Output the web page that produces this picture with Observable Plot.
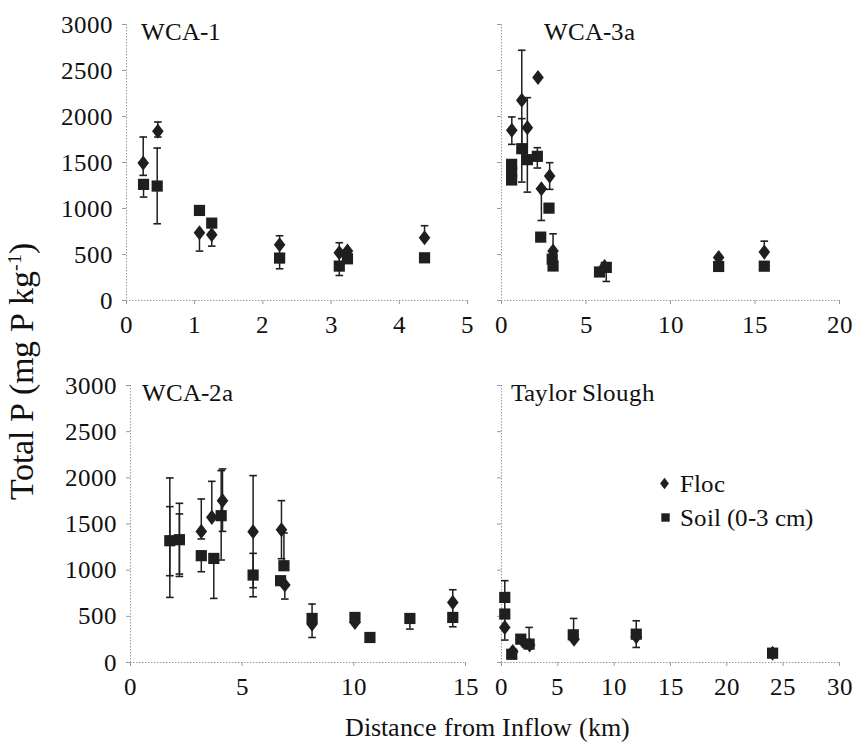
<!DOCTYPE html>
<html><head><meta charset="utf-8">
<script src="https://cdn.jsdelivr.net/npm/d3@7"></script>
<script src="https://cdn.jsdelivr.net/npm/@observablehq/plot@0.6"></script>
<style>
@font-face{font-family:'ChartSerif';src:local('Liberation Serif'),local('LiberationSerif'),local('LiberationSerif-Regular'),local('Times New Roman');}
html,body{margin:0;padding:0;background:#fff;}
#chart{position:relative;width:856px;height:751px;font-family:'ChartSerif','Liberation Serif',serif;overflow:hidden;}
#chart text{font-family:'ChartSerif','Liberation Serif',serif;}
#xlabel{position:absolute;left:0;width:974px;top:713px;text-align:center;font-family:'ChartSerif','Liberation Serif',serif;font-size:25.5px;color:#111;line-height:30px;white-space:nowrap;}
</style></head><body><div id="chart"><div id="xlabel">Distance from Inflow (km)</div><svg id="ov" width="856" height="751" style="position:absolute;left:0;top:0;pointer-events:none" fill="#111"><text transform="translate(33,371) rotate(-90)" text-anchor="middle" font-size="34">Total P (mg P kg<tspan dy="-12" font-size="20">-1</tspan><tspan dy="12">)</tspan></text></svg></div>
<script>
// ---------- data ----------
const Y_TICKS = [0, 500, 1000, 1500, 2000, 2500, 3000];
const SERIES = ["Floc", "Soil (0-3 cm)"];

// WCA-1
const WCA1_X_TICKS = [0, 1, 2, 3, 4, 5];
const WCA1_FLOC_X = [0.245, 0.46, 1.07, 1.25, 2.245, 3.12, 3.24, 4.37];
const WCA1_FLOC_Y = [1494, 1839, 736, 715, 606, 519, 537, 682];
const WCA1_SOIL_X = [0.25, 0.45, 1.07, 1.25, 2.245, 3.12, 3.24, 4.37];
const WCA1_SOIL_Y = [1262, 1244, 979, 841, 461, 374, 453, 464];
const WCA1_ERR_X  = [0.245, 0.25, 0.46, 0.45, 1.07, 1.25, 2.245, 3.12, 4.37];
const WCA1_ERR_LO = [1360, 1124, 1777, 834, 537, 591, 345, 272, 682];
const WCA1_ERR_HI = [1777, 1262, 1940, 1657, 736, 715, 704, 628, 813];

// WCA-3a
const WCA3_X_TICKS = [0, 5, 10, 15, 20];
const WCA3_FLOC_X = [0.61, 1.20, 1.53, 2.16, 2.36, 2.85, 3.05, 6.1, 12.85, 15.55];
const WCA3_FLOC_Y = [1850, 2176, 1879, 2423, 1215, 1352, 537, 370, 468, 526];
const WCA3_SOIL_X = [0.6, 0.6, 0.6, 1.2, 1.53, 2.12, 2.32, 2.81, 3.0, 3.05, 5.8, 6.2, 12.85, 15.55];
const WCA3_SOIL_Y = [1480, 1395, 1310, 1650, 1531, 1567, 689, 1004, 450, 375, 310, 360, 370, 373];
const WCA3_ERR_X  = [0.61, 1.20, 1.20, 1.53, 2.12, 2.36, 2.85, 3.05, 6.2, 15.55];
const WCA3_ERR_LO = [1697, 1630, 1287, 1178, 1440, 870, 1208, 537, 207, 526];
const WCA3_ERR_HI = [1995, 2720, 1977, 2205, 1661, 1215, 1498, 725, 360, 645];

// WCA-2a
const WCA2_X_TICKS = [0, 5, 10, 15];
const WCA2_FLOC_X = [3.17, 3.64, 4.12, 5.49, 6.76, 6.91, 8.13, 10.05, 14.43];
const WCA2_FLOC_Y = [1420, 1572, 1753, 1417, 1438, 839, 416, 434, 651];
const WCA2_SOIL_X = [1.76, 2.19, 3.17, 3.73, 4.06, 5.49, 6.72, 6.87, 8.13, 10.05, 10.72, 12.51, 14.43];
const WCA2_SOIL_Y = [1319, 1330, 1157, 1127, 1590, 947, 886, 1048, 477, 488, 271, 477, 488];
const WCA2_ERR_X  = [1.76, 1.76, 2.19, 2.19, 3.17, 3.17, 3.64, 3.73, 4.06, 4.12, 5.49, 5.49, 6.76, 6.87, 6.91, 8.13, 12.51, 14.43];
const WCA2_ERR_LO = [705, 940, 932, 958, 1338, 983, 1572, 694, 1110, 1420, 810, 712, 1124, 1048, 687, 271, 362, 387];
const WCA2_ERR_HI = [1999, 1688, 1724, 1609, 1771, 1157, 1962, 1127, 2078, 2096, 2024, 1182, 1753, 1403, 839, 633, 477, 788];

// Taylor Slough
const TS_X_TICKS = [0, 5, 10, 15, 20, 25, 30];
const TS_FLOC_X = [0.29, 1.0, 1.9, 2.5, 6.44, 11.96, 24.06];
const TS_FLOC_Y = [380, 120, 230, 190, 253, 280, 101];
const TS_SOIL_X = [0.29, 0.29, 0.91, 1.71, 2.45, 6.37, 11.96, 24.06];
const TS_SOIL_Y = [705, 525, 89, 253, 199, 300, 307, 101];
const TS_ERR_X  = [0.29, 2.45, 6.4, 11.96];
const TS_ERR_LO = [243, 199, 253, 163];
const TS_ERR_HI = [886, 380, 477, 452];

// ---------- symbols ----------
const diamondSym = {draw(ctx, size){ const r = Math.sqrt(size/Math.PI); const w = r, h = r*1.3;
  ctx.moveTo(0,-h); ctx.lineTo(w,0); ctx.lineTo(0,h); ctx.lineTo(-w,0); ctx.closePath(); }};
const squareSym = {draw(ctx, size){ const r = Math.sqrt(size/Math.PI); ctx.rect(-r,-r,2*r,2*r); }};
const capSym = {draw(ctx, size){ const r = Math.sqrt(size/Math.PI); ctx.moveTo(-r,0); ctx.lineTo(r,0); }};

const INK = "#1f1f1f";
const AXIS = "#9a9a9a";
const FONT = "'ChartSerif', 'Liberation Serif', serif";
const fmt = d => String(d);

function zip(xs, ys){ return xs.map((x,i)=>({x, y: ys[i]})); }

function panel(o){
  const floc = zip(o.flocX, o.flocY);
  const soil = zip(o.soilX, o.soilY);
  const err = o.errX.map((x,i)=>({x, lo: o.errLo[i], hi: o.errHi[i]}));
  const yAxis = o.yLabels
    ? Plot.axisY({ticks: Y_TICKS, tickSize: 4, tickPadding: 10, stroke: AXIS, fill: "#111", fontSize: 25, label: null, tickFormat: fmt})
    : (Plot.axisTickY ? Plot.axisTickY({ticks: Y_TICKS, tickSize: 4, stroke: AXIS})
                      : Plot.axisY({ticks: Y_TICKS, tickSize: 4, stroke: AXIS, tickFormat: () => "", label: null}));
  const marks = [
    Plot.ruleY([0], {stroke: AXIS, strokeDasharray: "1.5,1.5", strokeWidth: 1}),
    Plot.ruleX([o.xDomain[0]], {stroke: AXIS, strokeDasharray: "1.5,1.5", strokeWidth: 1}),
    Plot.axisX({ticks: o.xTicks, tickSize: 4, tickPadding: 11, stroke: AXIS, fill: "#111", fontSize: 25, label: null, tickFormat: fmt}),
    yAxis,
    Plot.ruleX(err, {x: "x", y1: "lo", y2: "hi", stroke: INK, strokeWidth: 1.5}),
    Plot.dot(err, {x: "x", y: "lo", symbol: capSym, r: 3.8, stroke: INK, fill: "none", strokeWidth: 1.6}),
    Plot.dot(err, {x: "x", y: "hi", symbol: capSym, r: 3.8, stroke: INK, fill: "none", strokeWidth: 1.6}),
    Plot.dot(soil, {x: "x", y: "y", symbol: squareSym, r: 5.6, fill: INK, stroke: "none"}),
    Plot.dot(floc, {x: "x", y: "y", symbol: diamondSym, r: 5.8, fill: INK, stroke: "none"}),
    Plot.text([o.title], {frameAnchor: "top-left", textAnchor: "start", lineAnchor: "top", dx: o.titleDx, dy: -2, fontSize: 25, fill: "#111"})
  ];
  if (o.legend) {
    marks.push(
      Plot.dot([0], {frameAnchor: "top-left", dx: 163, dy: 98, symbol: diamondSym, r: 4.4, fill: INK}),
      Plot.dot([0], {frameAnchor: "top-left", dx: 164, dy: 132, symbol: squareSym, r: 4.2, fill: INK}),
      Plot.text([SERIES[0]], {frameAnchor: "top-left", textAnchor: "start", lineAnchor: "middle", dx: 178, dy: 98, fontSize: 25, fill: "#111"}),
      Plot.text([SERIES[1]], {frameAnchor: "top-left", textAnchor: "start", lineAnchor: "middle", dx: 178, dy: 132, fontSize: 25, fill: "#111"})
    );
  }
  const svg = Plot.plot({
    width: o.width, height: o.height,
    marginLeft: o.ml, marginRight: o.mr, marginTop: o.mt, marginBottom: o.mb,
    x: {domain: o.xDomain, axis: null},
    y: {domain: [0, 3000], axis: null},
    style: {fontFamily: FONT, fontSize: "25px", background: "transparent", overflow: "visible", color: "#111"},
    marks
  });
  svg.style.position = "absolute";
  svg.style.left = o.left + "px";
  svg.style.top = o.top + "px";
  return svg;
}

const chart = document.getElementById("chart");
const ovEl = document.getElementById("ov");
function add(svg){ chart.insertBefore(svg, ovEl); }
add(panel({title: "WCA-1", xDomain: [0,5], xTicks: WCA1_X_TICKS,
  flocX: WCA1_FLOC_X, flocY: WCA1_FLOC_Y, soilX: WCA1_SOIL_X, soilY: WCA1_SOIL_Y,
  errX: WCA1_ERR_X, errLo: WCA1_ERR_LO, errHi: WCA1_ERR_HI, yLabels: true, titleDx: 14,
  left: 0, top: 0, width: 480, height: 345, ml: 126, mr: 13, mt: 24, mb: 45}));
add(panel({title: "WCA-3a", xDomain: [0,20], xTicks: WCA3_X_TICKS,
  flocX: WCA3_FLOC_X, flocY: WCA3_FLOC_Y, soilX: WCA3_SOIL_X, soilY: WCA3_SOIL_Y,
  errX: WCA3_ERR_X, errLo: WCA3_ERR_LO, errHi: WCA3_ERR_HI, yLabels: false, titleDx: 42,
  left: 480, top: 0, width: 376, height: 345, ml: 21, mr: 17, mt: 24, mb: 45}));
add(panel({title: "WCA-2a", xDomain: [0,15], xTicks: WCA2_X_TICKS,
  flocX: WCA2_FLOC_X, flocY: WCA2_FLOC_Y, soilX: WCA2_SOIL_X, soilY: WCA2_SOIL_Y,
  errX: WCA2_ERR_X, errLo: WCA2_ERR_LO, errHi: WCA2_ERR_HI, yLabels: true, titleDx: 11,
  left: 0, top: 350, width: 480, height: 350, ml: 130, mr: 15, mt: 35, mb: 38}));
add(panel({title: "Taylor Slough", xDomain: [0,30], xTicks: TS_X_TICKS,
  flocX: TS_FLOC_X, flocY: TS_FLOC_Y, soilX: TS_SOIL_X, soilY: TS_SOIL_Y,
  errX: TS_ERR_X, errLo: TS_ERR_LO, errHi: TS_ERR_HI, yLabels: false, titleDx: 9, legend: true,
  left: 480, top: 350, width: 376, height: 350, ml: 21, mr: 17, mt: 35, mb: 38}));
</script></body></html>
